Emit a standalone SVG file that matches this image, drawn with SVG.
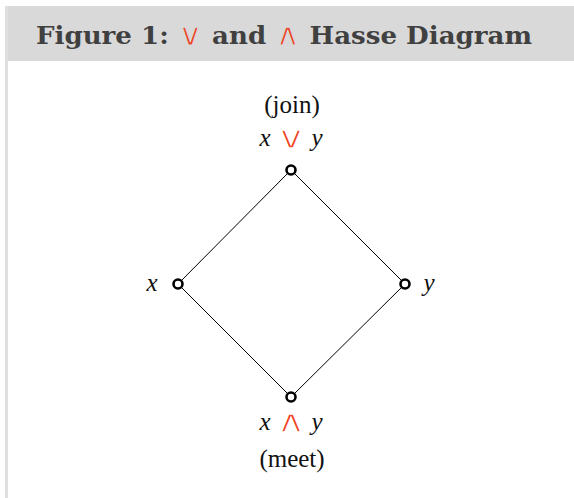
<svg xmlns="http://www.w3.org/2000/svg" width="574" height="498" viewBox="0 0 574 498">
<style>
.t{font-family:"Liberation Serif","DejaVu Serif",serif;font-size:25px;fill:#111}
.i{font-style:italic}
.op{fill:#f03c1e;font-family:"DejaVu Sans",sans-serif;font-size:31px;stroke:#fff;stroke-width:1.3px}
.title{font-family:"DejaVu Serif","Liberation Serif",serif;font-weight:bold;font-size:23.5px;fill:#404040}
.top{fill:#f03c1e;font-family:"DejaVu Sans",sans-serif;font-size:31px;font-weight:normal;stroke:#d9d9d9;stroke-width:1.2px}
.node{fill:#fff;stroke:#000;stroke-width:2.6}
.edge{stroke:#000;stroke-width:1;fill:none}
</style>
<rect x="0" y="0" width="574" height="498" fill="#fff"/>
<rect x="5" y="6" width="569" height="55" fill="#d9d9d9"/>
<rect x="5" y="6" width="3" height="492" fill="#e0e0e0"/>
<text class="title" x="36" y="44" textLength="496" lengthAdjust="spacingAndGlyphs">Figure 1: <tspan class="top" dy="1">∨</tspan><tspan dy="-1"> and </tspan><tspan class="top" dy="1">∧</tspan><tspan dy="-1"> Hasse Diagram</tspan></text>
<g id="connectors">
<line class="edge" x1="291" y1="170" x2="178" y2="284"/>
<line class="edge" x1="291" y1="170" x2="405" y2="284"/>
<line class="edge" x1="178" y1="284" x2="291" y2="397"/>
<line class="edge" x1="405" y1="284" x2="291" y2="397"/>
</g>
<g id="join">
<circle class="node" cx="291" cy="170" r="4.5"/>
<text class="t" x="292" y="113" text-anchor="middle">(join)</text>
<text class="t i" x="265" y="146" text-anchor="middle">x</text>
<text class="op" transform="translate(291,148) scale(1.35,1)" x="0" y="0" text-anchor="middle">∨</text>
<text class="t i" x="317" y="146" text-anchor="middle">y</text>
</g>
<g id="x">
<circle class="node" cx="178" cy="284" r="4.5"/>
<text class="t i" x="152" y="291" text-anchor="middle">x</text>
</g>
<g id="y">
<circle class="node" cx="405" cy="284" r="4.5"/>
<text class="t i" x="429" y="291" text-anchor="middle">y</text>
</g>
<g id="meet">
<circle class="node" cx="291" cy="397" r="4.5"/>
<text class="t i" x="265" y="430" text-anchor="middle">x</text>
<text class="op" transform="translate(291,432) scale(1.35,1)" x="0" y="0" text-anchor="middle">∧</text>
<text class="t i" x="317" y="430" text-anchor="middle">y</text>
<text class="t" x="292" y="467" text-anchor="middle">(meet)</text>
</g>
</svg>
